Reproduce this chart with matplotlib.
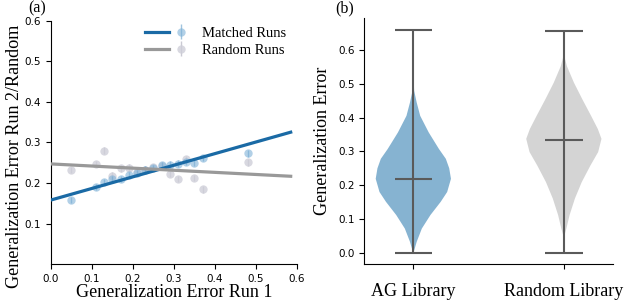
import numpy as np
import matplotlib
matplotlib.use('Agg')
import matplotlib.pyplot as plt
from matplotlib.legend_handler import HandlerTuple

# panel (a): generalization error, run 1 vs run 2 / random
run1 = [0.05, 0.11, 0.13, 0.15, 0.17, 0.19, 0.21, 0.23, 0.25, 0.27, 0.29, 0.31, 0.33, 0.35, 0.37, 0.48]
matched = [0.158, 0.190, 0.203, 0.210, 0.210, 0.220, 0.225, 0.233, 0.237, 0.244, 0.245, 0.248, 0.252, 0.249, 0.262, 0.273]
random_runs = [0.232, 0.247, 0.280, 0.218, 0.236, 0.238, 0.228, 0.233, 0.240, 0.243, 0.222, 0.210, 0.259, 0.212, 0.184, 0.251]
point_err = [0.008] * len(run1)

# regression lines (intercept, slope) and the x range they cover
matched_fit = (0.158, 0.286)
random_fit = (0.247, -0.052)
fit_range = (0.0, 0.585)

# panel (b): violin profiles (relative half-width at each error value)
ag_coords = [0.0, 0.004, 0.033, 0.072, 0.112, 0.151, 0.18, 0.219, 0.25, 0.278, 0.307, 0.356, 0.405, 0.444, 0.479, 0.52, 0.66]
ag_vals = [0, 0.5, 3.3, 8.3, 16.7, 26.7, 33, 36.7, 35, 31.7, 25, 15, 6.7, 3.3, 0.8, 0.2, 0]
rand_coords = [0.045, 0.072, 0.112, 0.161, 0.209, 0.258, 0.298, 0.337, 0.366, 0.405, 0.454, 0.503, 0.552, 0.581, 0.62]
rand_vals = [0, 2.5, 5.7, 11, 17.7, 26.3, 34, 37.3, 33.7, 27, 18.3, 10, 3, 0.5, 0]
ag_stats = dict(mean=0.219, median=0.219, min=0.0, max=0.66)
rand_stats = dict(mean=0.335, median=0.335, min=0.0, max=0.657)
libraries = ['AG Library', 'Random Library']

serif = 'Liberation Serif'
blue = '#1a6aa5'
grey_line = '#999999'

fig = plt.figure(figsize=(6.24, 3.06), dpi=100)
ax1 = fig.add_axes([0.0817, 0.137, 0.394, 0.795])
ax2 = fig.add_axes([0.584, 0.137, 0.398, 0.803])

# ---- (a)
xs = np.linspace(fit_range[0], fit_range[1], 50)
l1, = ax1.plot(xs, matched_fit[0] + matched_fit[1] * xs, color=blue, lw=2.3, zorder=3)
l2, = ax1.plot(xs, random_fit[0] + random_fit[1] * xs, color=grey_line, lw=2.3, zorder=3)
e1 = ax1.errorbar(run1, matched, yerr=point_err, fmt='o', ms=6, color='#7fb2d8',
                  ecolor='#5f9cc8', alpha=0.6, mec='none', elinewidth=1, zorder=2)
e2 = ax1.errorbar(run1, random_runs, yerr=point_err, fmt='o', ms=6, color='#cfcfd9',
                  ecolor='#bdbdc8', alpha=0.8, mec='none', elinewidth=1, zorder=1)
ax1.set_xlim(0, 0.6)
ax1.set_ylim(0, 0.6)
ax1.set_xticks(np.arange(0, 0.61, 0.1))
ax1.set_yticks(np.arange(0.1, 0.61, 0.1))
ax1.spines['top'].set_visible(False)
ax1.spines['right'].set_visible(False)
ax1.tick_params(labelsize=7.5)
ax1.set_xlabel('Generalization Error Run 1', fontfamily=serif, fontsize=13, labelpad=0)
ax1.set_ylabel('Generalization Error Run 2/Random', fontfamily=serif, fontsize=13.1)
ax1.yaxis.set_label_coords(-0.112, 0.445)
ax1.legend([(l1, e1), (l2, e2)], ['Matched Runs', 'Random Runs'],
           handler_map={tuple: HandlerTuple(ndivide=None, pad=0.05)},
           prop={'family': serif, 'size': 10.5}, frameon=False,
           loc='upper right', bbox_to_anchor=(1.01, 1.03), handlelength=3.3,
           labelspacing=0.25, handletextpad=0.6)
fig.text(0.045, 0.999, '(a)', fontfamily=serif, fontsize=11.5, va='top')

# ---- (b)
vp_stats = [dict(coords=np.array(ag_coords), vals=np.array(ag_vals), **ag_stats),
            dict(coords=np.array(rand_coords), vals=np.array(rand_vals), **rand_stats)]
parts = ax2.violin(vp_stats, positions=[1, 2], widths=0.5, showmeans=True, showextrema=True)
for body, col in zip(parts['bodies'], ['#86b3d1', '#d4d4d4']):
    body.set_facecolor(col)
    body.set_edgecolor('none')
    body.set_alpha(1)
for key in ['cmeans', 'cmins', 'cmaxes', 'cbars']:
    parts[key].set_color('#5a5a5a')
    parts[key].set_linewidth(1.5)
ax2.set_xticks([1, 2])
ax2.set_xticklabels(libraries, fontfamily=serif, fontsize=13)
ax2.tick_params(axis='y', labelsize=7.5)
ax2.tick_params(axis='x', pad=10)
ax2.spines['top'].set_visible(False)
ax2.spines['right'].set_visible(False)
ax2.set_ylabel('Generalization Error', fontfamily=serif, fontsize=13, labelpad=5)
fig.text(0.538, 0.999, '(b)', fontfamily=serif, fontsize=11.5, va='top')

fig.savefig('out.png', dpi=100)
